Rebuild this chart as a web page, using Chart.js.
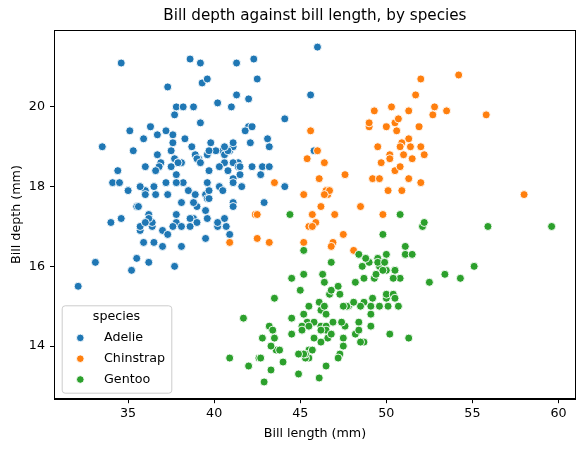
<!DOCTYPE html>
<html>
<head>
<meta charset="utf-8">
<script src="https://cdn.jsdelivr.net/npm/chart.js@4"></script>
<style>
  html, body { margin: 0; padding: 0; background: #fff; }
  #wrap { width: 584px; height: 451px; }
</style>
</head>
<body>
<div id="wrap"><canvas id="penguinChart" width="584" height="451"></canvas></div>
<script>
const species = ["Adelie", "Chinstrap", "Gentoo"];
const speciesColors = ["#1f77b4", "#ff7f0e", "#2ca02c"];

const adelieBillLength = [39.1,39.5,40.3,36.7,39.3,38.9,39.2,34.1,42.0,37.8,37.8,41.1,38.6,34.6,36.6,38.7,42.5,34.4,46.0,37.8,
  37.7,35.9,38.2,38.8,35.3,40.6,40.5,37.9,40.5,39.5,37.2,39.5,40.9,36.4,39.2,38.8,42.2,37.6,39.8,36.5,
  40.8,36.0,44.1,37.0,39.6,41.1,37.5,36.0,42.3,39.6,40.1,35.0,42.0,34.5,41.4,39.0,40.6,36.5,37.6,35.7,
  41.3,37.6,41.1,36.4,41.6,35.5,41.1,35.9,41.8,33.5,39.7,39.6,45.8,35.5,42.8,40.9,37.2,36.2,42.1,34.6,
  42.9,36.7,35.1,37.3,41.3,36.3,36.9,38.3,38.9,35.7,41.1,34.0,39.6,36.2,40.8,38.1,40.3,33.1,43.2,35.0,
  41.0,37.7,37.8,37.9,39.7,38.6,38.2,38.1,43.2,38.1,45.6,39.7,42.2,39.6,42.7,38.6,37.3,35.7,41.1,36.2,
  37.7,40.2,41.4,35.2,40.6,38.8,41.5,39.0,44.1,38.5,43.1,36.8,37.5,38.1,41.1,35.6,40.2,37.0,39.7,40.2,
  40.6,32.1,40.7,37.3,39.0,39.2,36.6,36.0,37.8,36.0,41.5];
const adelieBillDepth = [18.7,17.4,18.0,19.3,20.6,17.8,19.6,18.1,20.2,17.1,17.3,17.6,21.2,21.1,17.8,19.0,20.7,18.4,21.5,18.3,
  18.7,19.2,18.1,17.2,18.9,18.6,17.9,18.6,18.9,16.7,18.1,17.8,18.9,17.0,21.1,20.0,18.5,19.3,19.1,18.0,
  18.4,18.5,19.7,16.9,18.8,19.0,18.9,17.9,21.2,17.7,18.9,17.9,19.5,18.1,18.6,17.5,18.8,16.6,19.1,16.9,
  21.1,17.0,18.2,17.1,18.0,16.2,19.1,16.6,19.4,19.0,18.4,17.2,18.9,17.5,18.5,16.8,19.4,16.1,19.1,17.2,
  17.6,18.8,19.4,17.8,20.3,19.5,18.6,19.2,18.8,18.0,18.1,17.1,18.1,17.3,18.9,18.6,18.5,16.1,18.5,17.9,
  20.0,16.0,20.0,18.6,18.9,17.2,20.0,17.0,19.0,16.5,20.3,17.7,19.5,20.7,18.3,17.0,20.5,17.0,18.6,17.2,
  19.8,17.0,18.5,15.9,19.0,17.6,18.3,17.1,18.0,17.9,19.2,18.5,18.5,17.6,17.5,17.5,20.1,16.5,17.9,17.1,
  17.2,15.5,17.0,16.8,18.7,18.6,18.4,17.8,18.1,17.1,18.5];

const chinstrapBillLength = [46.5,50.0,51.3,45.4,52.7,45.2,46.1,51.3,46.0,51.3,46.6,51.7,47.0,52.0,45.9,50.5,50.3,58.0,46.4,49.2,
  42.4,48.5,43.2,50.6,46.7,52.0,50.5,49.5,46.4,52.8,40.9,54.2,42.5,51.0,49.7,47.5,47.6,52.0,46.9,53.5,
  49.0,46.2,50.9,45.5,50.9,50.8,50.1,49.0,51.5,49.8,48.1,51.4,45.7,50.7,42.5,52.2,45.2,49.3,50.2,45.6,
  51.9,46.8,45.7,55.8,43.5,49.6,50.8,50.2];
const chinstrapBillDepth = [17.9,19.5,19.2,18.7,19.8,17.8,18.2,18.2,18.9,19.9,17.8,20.3,17.3,18.1,17.1,19.6,20.0,17.8,18.6,18.2,
  17.3,17.5,16.6,19.4,17.9,19.0,18.4,19.0,17.8,20.0,16.6,20.8,16.7,18.8,18.6,16.8,18.3,20.7,16.6,19.9,
  19.5,17.5,19.1,17.0,17.9,18.5,17.9,19.6,18.7,17.3,16.4,19.0,17.3,19.7,17.3,18.8,16.6,19.9,18.8,19.4,
  19.5,16.5,17.0,19.8,18.1,18.2,19.0,18.7];

const gentooBillLength = [46.1,50.0,48.7,50.0,47.6,46.5,45.4,46.7,43.3,46.8,40.9,49.0,45.5,48.4,45.8,49.3,42.0,49.2,46.2,48.7,
  50.2,45.1,46.5,46.3,42.9,46.1,44.5,47.8,48.2,50.0,47.3,42.8,45.1,59.6,49.1,48.4,42.6,44.4,44.0,48.7,
  42.7,49.6,45.3,49.6,50.5,43.6,45.5,50.5,44.9,45.2,46.6,48.5,45.1,50.1,46.5,45.0,43.8,45.5,43.2,50.4,
  45.3,46.2,45.7,54.3,45.8,49.8,46.2,49.5,43.5,50.7,47.7,46.4,48.2,46.5,46.4,48.6,47.5,51.1,45.2,45.2,
  49.1,52.5,47.4,50.0,44.9,50.8,43.4,51.3,47.5,52.1,47.5,52.2,45.5,49.5,44.5,50.8,49.4,46.9,48.4,51.1,
  48.5,55.9,47.2,49.1,47.3,46.8,41.7,53.4,43.3,48.1,50.5,49.8,43.5,51.5,46.2,55.1,44.5,48.8,47.2,46.8,
  50.4,45.2,49.9];
const gentooBillDepth = [13.2,16.3,14.1,15.2,14.5,13.5,14.6,15.3,13.4,15.4,13.7,16.1,13.7,14.6,14.6,15.7,13.5,15.2,14.5,15.1,
  14.3,14.5,14.5,15.8,13.1,15.1,14.3,15.0,14.3,15.3,15.3,14.2,14.5,17.0,14.8,16.3,13.7,17.3,13.6,15.7,
  13.7,16.0,13.7,15.0,15.9,13.9,13.9,15.9,13.3,15.8,14.2,14.1,14.4,15.0,14.4,15.4,13.9,15.0,14.5,15.3,
  13.8,14.9,13.9,15.7,14.2,16.8,14.4,16.2,14.2,15.0,15.0,15.6,15.6,14.8,15.0,16.0,14.2,16.3,13.8,16.4,
  14.5,15.6,14.6,15.9,13.8,17.3,14.4,14.2,14.0,17.0,15.0,17.1,14.5,16.1,14.7,15.7,15.8,14.6,14.4,16.5,
  15.0,17.0,15.5,15.0,13.8,16.1,14.7,15.8,14.0,15.1,15.2,15.9,15.2,16.3,14.1,16.0,15.7,16.2,13.7,14.3,
  15.7,14.8,16.1];

const xTickValues = [35, 40, 45, 50, 55, 60];
const yTickValues = [14, 16, 18, 20];

const allLengths = [adelieBillLength, chinstrapBillLength, gentooBillLength];
const allDepths = [adelieBillDepth, chinstrapBillDepth, gentooBillDepth];

function toPoints(xs, ys) {
  return xs.map(function(x, i) { return { x: x, y: ys[i] }; });
}

// matplotlib-style 5% margins around the data
let flatX = [].concat(...allLengths), flatY = [].concat(...allDepths);
let xMin = Math.min(...flatX), xMax = Math.max(...flatX);
let yMin = Math.min(...flatY), yMax = Math.max(...flatY);
let xPad = (xMax - xMin) * 0.05, yPad = (yMax - yMin) * 0.05;

const FONT = "'DejaVu Sans', 'Liberation Sans', sans-serif";

let datasets = species.map(function(name, i) {
  return {
    label: name,
    data: toPoints(allLengths[i], allDepths[i]),
    backgroundColor: speciesColors[i],
    borderColor: "#ffffff",
    borderWidth: 0.9,
    pointRadius: 4,
    pointHoverRadius: 4,
    order: species.length - i
  };
});

// top/right spines like matplotlib
const framePlugin = {
  id: "frame",
  afterDatasetsDraw(chart) {
    let a = chart.chartArea, ctx = chart.ctx;
    ctx.save();
    ctx.strokeStyle = "#000";
    ctx.lineWidth = 1;
    ctx.strokeRect(Math.round(a.left) - 0.5, Math.round(a.top) + 0.5,
                   Math.round(a.right) - Math.round(a.left) + 1, Math.round(a.bottom) - Math.round(a.top));
    ctx.restore();
  }
};

// legend box in the lower-left corner of the axes
const innerLegend = {
  id: "innerLegend",
  afterDraw(chart) {
    let a = chart.chartArea, ctx = chart.ctx;
    let w = 109.6, h = 87.4;
    let x0 = a.left + 7.2, y0 = a.bottom - 6 - h;
    ctx.save();
    ctx.beginPath();
    ctx.roundRect(x0 + 0.5, y0 + 0.5, w, h, 3);
    ctx.fillStyle = "rgba(255,255,255,0.8)";
    ctx.fill();
    ctx.strokeStyle = "#cccccc";
    ctx.lineWidth = 1;
    ctx.stroke();

    ctx.fillStyle = "#000";
    ctx.font = "12.7px " + FONT;
    ctx.textBaseline = "middle";
    ctx.textAlign = "center";
    ctx.fillText("species", x0 + w / 2, y0 + 11.6);

    ctx.textAlign = "left";
    species.forEach(function(name, i) {
      let cy = y0 + 32.6 + i * 20.8;
      ctx.beginPath();
      ctx.arc(x0 + 18.6, cy, 3.8, 0, Math.PI * 2);
      ctx.fillStyle = speciesColors[i];
      ctx.fill();
      ctx.strokeStyle = "#fff";
      ctx.lineWidth = 0.9;
      ctx.stroke();
      ctx.fillStyle = "#000";
      ctx.fillText(name, x0 + 42.3, cy);
    });
    ctx.restore();
  }
};

let ctx = document.getElementById("penguinChart").getContext("2d");

let chart = new Chart(ctx, {
  type: "scatter",
  data: { datasets: datasets },
  options: {
    responsive: false,
    animation: false,
    events: [],
    layout: { padding: { left: 0, right: 8.7, top: 0, bottom: 0 } },
    plugins: {
      legend: { display: false },
      tooltip: { enabled: false },
      title: {
        display: true,
        fullSize: false,
        text: "Bill depth against bill length, by species",
        color: "#000",
        font: { family: FONT, size: 15.2, weight: "normal", lineHeight: 1.2 },
        padding: { top: 6.6, bottom: 5.5 }
      }
    },
    scales: {
      x: {
        type: "linear",
        min: xMin - xPad,
        max: xMax + xPad,
        afterBuildTicks: function(scale) { scale.ticks = xTickValues.map(v => ({ value: v })); },
        afterFit: function(scale) { scale.height = 52.3; },
        grid: { drawOnChartArea: false, drawTicks: true, tickLength: 4.5, color: "#000", lineWidth: 1 },
        border: { display: true, color: "#000", width: 1 },
        ticks: { color: "#000", padding: 2.5, maxRotation: 0, font: { family: FONT, size: 12.7 } },
        title: {
          display: true, text: "Bill length (mm)", color: "#000",
          font: { family: FONT, size: 12.7, lineHeight: 1.2 },
          padding: { top: 0, bottom: 10.1 }
        }
      },
      y: {
        type: "linear",
        min: yMin - yPad,
        max: yMax + yPad,
        afterBuildTicks: function(scale) { scale.ticks = yTickValues.map(v => ({ value: v })); },
        afterFit: function(scale) { scale.width = 54.5; },
        grid: { drawOnChartArea: false, drawTicks: true, tickLength: 4.5, color: "#000", lineWidth: 1 },
        border: { display: true, color: "#000", width: 1 },
        ticks: { color: "#000", padding: 5, font: { family: FONT, size: 12.7 } },
        title: {
          display: true, text: "Bill depth (mm)", color: "#000",
          font: { family: FONT, size: 12.7, lineHeight: 1.2 },
          padding: { top: 9.1, bottom: 0 }
        }
      }
    }
  },
  plugins: [framePlugin, innerLegend]
});
</script>
</body>
</html>
